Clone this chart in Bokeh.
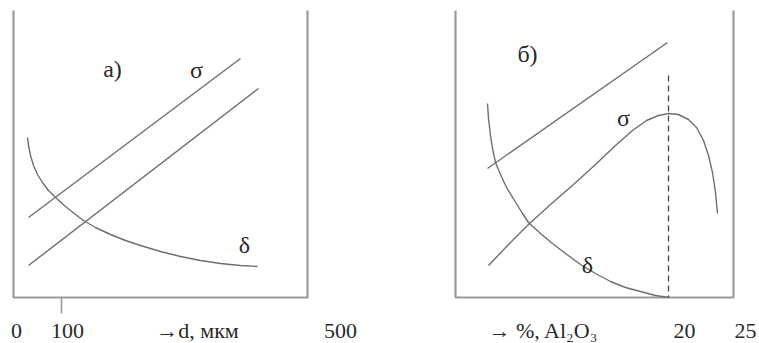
from bokeh.plotting import figure
from bokeh.models import Range1d
from bokeh.embed import file_html
from bokeh.resources import INLINE
from bokeh.core.properties import value

# ---- data (coordinates in the schematic's drawing units) ----
# panel a)
frame_a_x = [13, 13, 307, 307]
frame_a_y = [10, 297, 297, 10]
tick_a_x = [61, 61]
tick_a_y = [297, 313]
sigma_a1_x = [28, 240]
sigma_a1_y = [217, 58]
sigma_a2_x = [28, 258]
sigma_a2_y = [265, 88]
delta_a_x = [27, 28, 30, 33, 37, 42, 48, 55, 65, 75, 83, 95, 110, 125, 140, 160, 180, 200, 220, 240, 257]
delta_a_y = [137, 145, 155, 165, 174, 182, 190, 197, 206, 214, 220, 227, 234, 240, 245, 251, 256, 260, 263, 265, 266]

# panel б)
frame_b_x = [455, 455, 733, 733]
frame_b_y = [10, 297, 297, 10]
sigma_b1_x = [487, 667]
sigma_b1_y = [168, 42]
sigma_b2_x = [488, 510, 528, 550, 573, 595, 615, 632, 646, 658, 668, 678, 688, 696, 703, 708, 712, 715, 717]
sigma_b2_y = [265, 242, 224, 204, 184, 164, 145, 130, 120, 115, 113, 114, 119, 127, 140, 155, 172, 192, 213]
delta_b_x = [487, 488, 490, 492, 495, 500, 506, 514, 522, 528, 540, 552, 565, 580, 595, 610, 625, 640, 655, 668]
delta_b_y = [103, 118, 135, 148, 162, 174, 187, 200, 213, 222, 233, 243, 253, 264, 273, 281, 287, 291, 295, 297]
dash_b_x = [668, 668]
dash_b_y = [75, 297]

# texts
label_texts = ["а)", "σ", "δ", "б)", "σ", "δ"]
label_x = [112, 196, 244, 527, 623, 587]
label_y = [68, 69, 244, 53, 117, 264]
tick_texts = ["0", "100", "→d, мкм", "500", "→ %, Al₂O₃", "20", "25"]
tick_x = [16, 67, 197, 340, 543, 684, 745]
tick_y = [330, 330, 330, 330, 330, 330, 330]

W, H = 759, 343
p = figure(width=W, height=H, output_backend="svg", toolbar_location=None,
           x_range=Range1d(0, W), y_range=Range1d(H, 0),
           min_border=0, outline_line_color=None)
p.axis.visible = False
p.grid.visible = False

frame_col = "#9a9a9a"
curve_col = "#6e6e6e"
for fx, fy in [(frame_a_x, frame_a_y), (frame_b_x, frame_b_y)]:
    p.line(fx, fy, line_color=frame_col, line_width=2.2)
p.line(tick_a_x, tick_a_y, line_color=frame_col, line_width=1.6)

for cx, cy in [(sigma_a1_x, sigma_a1_y), (sigma_a2_x, sigma_a2_y), (delta_a_x, delta_a_y),
               (sigma_b1_x, sigma_b1_y), (sigma_b2_x, sigma_b2_y), (delta_b_x, delta_b_y)]:
    p.line(cx, cy, line_color=curve_col, line_width=1.4, line_join="round")

p.line(dash_b_x, dash_b_y, line_color="#444444", line_width=1.3, line_dash="6 4")

p.text(x=label_x, y=label_y, text=label_texts, text_font=value("Liberation Serif"),
       text_font_size="24px", text_align="center", text_baseline="middle", text_color="#2a2a2a")
p.text(x=tick_x, y=tick_y, text=tick_texts, text_font=value("Liberation Serif"),
       text_font_size="22px", text_align="center", text_baseline="middle", text_color="#2a2a2a")

open("out.html", "w").write(file_html(p, INLINE))
